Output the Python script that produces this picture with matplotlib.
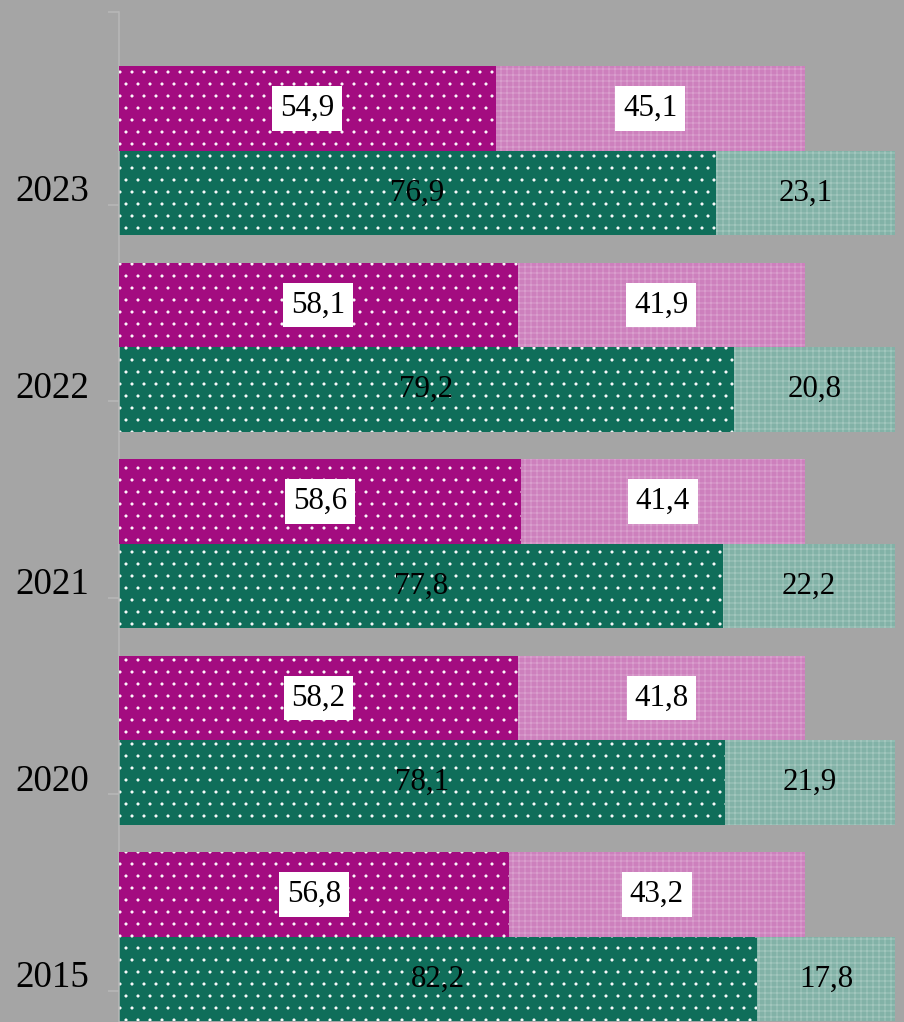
import matplotlib.pyplot as plt
import numpy as np

# データ(上から2023年→下が2015年)
years = ["2015", "2020", "2021", "2022", "2023"]
pink_dark = [56.8, 58.2, 58.6, 58.1, 54.9]
pink_light = [43.2, 41.8, 41.4, 41.9, 45.1]
green_dark = [82.2, 78.1, 77.8, 79.2, 76.9]
green_light = [17.8, 21.9, 22.2, 20.8, 23.1]

BG = "#a5a5a5"
MAGENTA = "#a30c80"
MAGENTA_L = "#cd80bd"
GREEN = "#0f6e5a"
GREEN_L = "#82b2a7"

plt.rcParams["font.family"] = ["Liberation Serif", "DejaVu Serif"]
plt.rcParams["hatch.linewidth"] = 0.6

DPI = 72
fig = plt.figure(figsize=(904 / DPI, 1022 / DPI), dpi=DPI, facecolor=BG)
ax = fig.add_axes([119 / 904, 0, 1 - 119 / 904, 1 - 12 / 1022])
ax.set_facecolor(BG)
ax2 = ax.twiny()  # ピンクの棒は別スケール

y = np.arange(len(years))
h = 0.43

# 緑の棒
ax.barh(y, green_dark, height=h, color=GREEN, edgecolor="white",
        linewidth=0, hatch=".")
ax.barh(y, green_light, left=green_dark, height=h, color=GREEN_L,
        edgecolor="#b8d4cd", linewidth=0, hatch="++")
# ピンクの棒
ax2.barh(y + h, pink_dark, height=h, color=MAGENTA, edgecolor="white",
         linewidth=0, hatch=".")
ax2.barh(y + h, pink_light, left=pink_dark, height=h, color=MAGENTA_L,
         edgecolor="#e2b4d8", linewidth=0, hatch="++")

def fmt(v):
    return f"{v:.1f}".replace(".", ",")

for i in range(len(years)):
    ax.text(green_dark[i] / 2, y[i], fmt(green_dark[i]), ha="center",
            va="center", fontsize=31)
    ax.text(green_dark[i] + green_light[i] / 2, y[i], fmt(green_light[i]),
            ha="center", va="center", fontsize=31)
    box = dict(boxstyle="square,pad=0.25", facecolor="white", edgecolor="none")
    ax2.text(pink_dark[i] / 2, y[i] + h, fmt(pink_dark[i]), ha="center",
             va="center", fontsize=31, bbox=box)
    ax2.text(pink_dark[i] + pink_light[i] / 2, y[i] + h, fmt(pink_light[i]),
             ha="center", va="center", fontsize=31, bbox=box)

ax.set_xlim(0, (904 - 119) / 7.76)
ax2.set_xlim(0, (904 - 119) / 6.86)
ax.set_ylim(-0.219, 4.921)

ax.set_yticks(y + 0.025)
ax.set_yticklabels(years, fontsize=37)
ax.tick_params(axis="y", which="major", length=0, pad=30)
ax.set_yticks(list(y - 0.06) + [4.921], minor=True)
ax.tick_params(axis="y", which="minor", length=11, color="#b8b8b8", width=1.5)
ax.set_xticks([])
ax2.set_xticks([])

for s in ["top", "right", "bottom"]:
    ax.spines[s].set_visible(False)
    ax2.spines[s].set_visible(False)
ax.spines["left"].set_color("#b8b8b8")
ax.spines["left"].set_linewidth(1.5)
ax2.spines["left"].set_visible(False)

fig.savefig("out.png", dpi=DPI, facecolor=BG)
